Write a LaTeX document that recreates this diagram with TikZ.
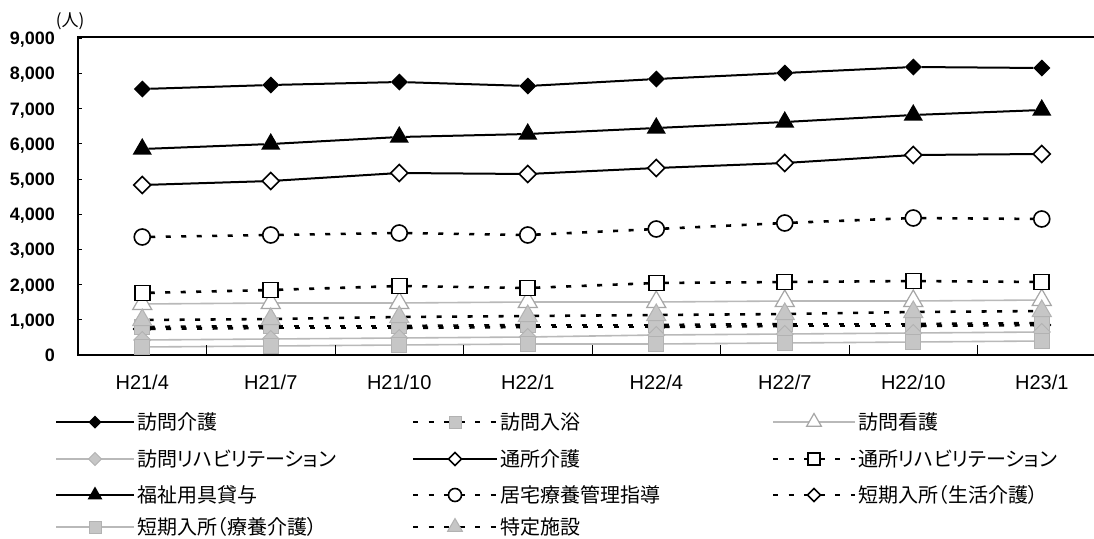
\documentclass[tikz,border=0pt]{standalone}
\usepackage{fontspec}
\setmainfont{Liberation Sans}
\newfontfamily\cjk[RawFeature=+palt]{Noto Sans CJK JP}
\usetikzlibrary{shapes.geometric}
\pgfdeclarelayer{back}
\pgfdeclarelayer{bg}
\pgfsetlayers{back,bg,main}
\tikzset{
  mk/.style={inner sep=0pt, outer sep=0pt, line width=1.5pt},
  fdia/.style={mk, diamond, minimum size=17pt, fill=black},
  odia/.style={mk, diamond, minimum size=17pt, draw=black, fill=white},
  gdia/.style={mk, diamond, minimum size=17pt, fill=gray!45, draw=gray!60, line width=1pt},
  ftri/.style={mk, regular polygon, regular polygon sides=3, minimum size=22pt, fill=black},
  otri/.style={mk, regular polygon, regular polygon sides=3, minimum size=22pt, draw=gray!70, fill=white, line width=1.2pt},
  gtri/.style={mk, regular polygon, regular polygon sides=3, minimum size=22pt, fill=gray!45, draw=gray!60, line width=1pt},
  ocirc/.style={mk, circle, minimum size=16pt, draw=black, fill=white, line width=1.6pt},
  osq/.style={mk, rectangle, minimum size=15pt, draw=black, fill=white, line width=1.6pt},
  gsq/.style={mk, rectangle, minimum size=15pt, fill=gray!45, draw=gray!60, line width=1pt},
  sol/.style={line width=2pt, black},
  dsh/.style={line width=2.6pt, black, dash pattern=on 5pt off 10.5pt},
  gry/.style={line width=1.6pt, gray!55},
  ylab/.style={anchor=base east, inner sep=0pt, font=\fontsize{18}{18}\selectfont\bfseries},
  xlab/.style={anchor=base, inner sep=0pt, font=\fontsize{20}{20}\selectfont},
  legtext/.style={anchor=base west, inner sep=0pt, font=\cjk\fontsize{20}{20}\selectfont},
}
\newcommand\series[4]{%
  \foreach \v [count=\i] in {#4} \node[#2] (#1\i) at ({142.25+128.5*(\i-1)},\v) {};
  \begin{pgfonlayer}{bg}
  \foreach \i [count=\j from 2] in {1,...,7} \draw[#3] (#1\i) -- (#1\j);
  \end{pgfonlayer}
}
\newcommand\legentry[7]{%
  \coordinate (#1s) at (#2,#4);
  \coordinate (#1e) at (#3,#4);
  \node[#6] (#1m) at ({(#2+#3)/2},#4) {};
  \begin{pgfonlayer}{bg}\draw[#5] (#1s) -- (#1e);\end{pgfonlayer}
  \node[legtext] (#1t) at (#3+3,#4+7.5) {#7};
}
\begin{document}
\begin{tikzpicture}[x=1pt,y=-1pt]
\useasboundingbox (0,0) rectangle (1094,538);
\begin{pgfonlayer}{back}
\fill[white] (0,0) rectangle (1094,538);
\end{pgfonlayer}

% plot frame
\draw[line width=1.8pt] (78,37) -- (1094,37);
\draw[line width=2.6pt] (78,36) -- (78,356);
\draw[line width=2.6pt] (77,355) -- (1094,355);

% y ticks and labels
\foreach \k in {1,...,9} {
  \draw[line width=0.9pt] (78,{355-35.2*\k}) -- ++(4,0);
  \node[ylab] (yl\k) at (55,{355-35.2*\k+6.5}) {\k,000};
}
\node[ylab] (yl0) at (55,361.5) {0};
\node[inner sep=0pt, font=\cjk\fontsize{17}{17}\selectfont] (unit) at (70,21) {(人)};

% x ticks and labels
\foreach \i in {1,...,7} \draw[line width=0.9pt] ({78+128.5*\i},355) -- ++(0,-10);
\foreach \lab [count=\i] in {H21/4,H21/7,H21/10,H22/1,H22/4,H22/7,H22/10,H23/1}
  \node[xlab] (xl\i) at ({142.25+128.5*(\i-1)},389) {\lab};

% data series (lower ones first)
\series{I}{odia}{dsh}{329,328,328,327,327,326,326,325}
\series{H}{gsq}{dsh}{327,326,326,325,325,324,324,323}
\series{J}{gdia}{gry}{340,339,338,337,335,334,333,332}
\series{K}{gsq}{gry}{347,346,345,344,344,343,342,341}
\series{F}{otri}{gry}{304,303,303,302,302,301,301,300}
\series{G}{gtri}{dsh}{320,319,317,316,315,314,312,311}
\series{E}{osq}{dsh}{293,290,286,288,283,282,281,282}
\series{D}{ocirc}{dsh}{237,235,233,235,229,223,218,219}
\series{C}{odia}{sol}{185,181,173,174,168,163,155,154}
\series{B}{ftri}{sol}{149,144,137,134,128,122,115,110}
\series{A}{fdia}{sol}{89,85,82,86,79,73,67,68}

% legend
\legentry{la}{56}{134}{422}{sol}{fdia,minimum size=13pt}{訪問介護}
\legentry{lb}{413}{497}{422}{dsh}{gsq,minimum size=12pt}{訪問入浴}
\legentry{lc}{773}{855}{422}{gry}{otri,minimum size=17pt}{訪問看護}
\legentry{ld}{56}{134}{459}{gry}{gdia,minimum size=13pt}{訪問リハビリテーション}
\legentry{le}{413}{497}{459}{sol}{odia,minimum size=13pt}{通所介護}
\legentry{lf}{773}{855}{459}{dsh}{osq,minimum size=12pt}{通所リハビリテーション}
\legentry{lg}{56}{134}{495}{sol}{ftri,minimum size=17pt}{福祉用具貸与}
\legentry{lh}{413}{497}{495}{dsh}{ocirc,minimum size=13pt}{居宅療養管理指導}
\legentry{li}{773}{855}{495}{dsh}{odia,minimum size=13pt}{短期入所（生活介護）}
\legentry{lj}{56}{134}{527}{gry}{gsq,minimum size=12pt}{短期入所（療養介護）}
\legentry{lk}{413}{497}{527}{dsh}{gtri,minimum size=17pt}{特定施設}
\end{tikzpicture}
\end{document}
